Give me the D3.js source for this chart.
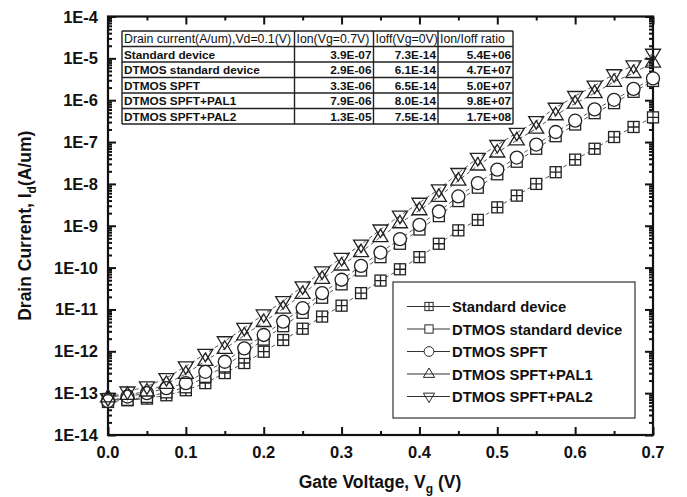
<!DOCTYPE html>
<html>
<head>
<meta charset="utf-8">
<script src="https://d3js.org/d3.v7.min.js"></script>
<style>
  body { margin: 0; background: #fff; }
  text { font-family: "Liberation Sans", Arial, sans-serif; fill: #111; }
</style>
</head>
<body>
<svg id="svg" width="687" height="497"></svg>
<script>
// gate voltage (V)
var vg = [0, 0.025, 0.05, 0.075, 0.1, 0.125, 0.15, 0.175, 0.2, 0.225, 0.25, 0.275, 0.3, 0.325, 0.35,
          0.375, 0.4, 0.425, 0.45, 0.475, 0.5, 0.525, 0.55, 0.575, 0.6, 0.625, 0.65, 0.675, 0.7];

// drain current, log10(A/um)
var logStd   = [-13.14, -13.17, -13.13, -13.05, -12.93, -12.76, -12.52, -12.28, -12.01, -11.73, -11.46, -11.17, -10.91, -10.61, -10.31,
                -10.04, -9.75, -9.43, -9.11, -8.86, -8.56, -8.28, -8.00, -7.72, -7.42, -7.16, -6.88, -6.64, -6.41];
var logDtStd = [-13.21, -13.16, -13.09, -12.98, -12.86, -12.61, -12.36, -12.04, -11.72, -11.40, -11.08, -10.72, -10.40, -10.07, -9.75,
                -9.43, -9.09, -8.77, -8.41, -8.09, -7.77, -7.47, -7.16, -6.86, -6.58, -6.31, -6.07, -5.80, -5.54];
var logSpft  = [-13.19, -13.08, -13.00, -12.88, -12.76, -12.49, -12.25, -11.93, -11.61, -11.29, -10.97, -10.61, -10.29, -9.96, -9.64,
                -9.32, -8.98, -8.66, -8.30, -7.98, -7.66, -7.37, -7.06, -6.76, -6.49, -6.22, -5.99, -5.73, -5.48];
var logPal1  = [-13.10, -13.04, -12.96, -12.78, -12.54, -12.23, -11.94, -11.62, -11.30, -10.98, -10.63, -10.27, -9.95, -9.63, -9.27,
                -8.94, -8.63, -8.31, -7.92, -7.56, -7.25, -6.96, -6.68, -6.36, -6.08, -5.83, -5.56, -5.35, -5.10];
var logPal2  = [-13.12, -12.96, -12.84, -12.64, -12.36, -12.06, -11.76, -11.44, -11.12, -10.80, -10.45, -10.09, -9.77, -9.45, -9.09,
                -8.76, -8.45, -8.13, -7.74, -7.38, -7.07, -6.78, -6.50, -6.18, -5.90, -5.65, -5.38, -5.17, -4.89];

var seriesNames = ["Standard device", "DTMOS standard device", "DTMOS SPFT", "DTMOS SPFT+PAL1", "DTMOS SPFT+PAL2"];
var seriesMarks = ["boxplus", "square", "circle", "up", "down"];

var xTicks = [0, 0.1, 0.2, 0.3, 0.4, 0.5, 0.6, 0.7];
var xTickLabels = ["0.0", "0.1", "0.2", "0.3", "0.4", "0.5", "0.6", "0.7"];
var yTicks = [1e-14, 1e-13, 1e-12, 1e-11, 1e-10, 1e-9, 1e-8, 1e-7, 1e-6, 1e-5, 1e-4];
var yTickLabels = ["1E-14", "1E-13", "1E-12", "1E-11", "1E-10", "1E-9", "1E-8", "1E-7", "1E-6", "1E-5", "1E-4"];

// inset table
var tableHeader = ["Drain current(A/um),Vd=0.1(V)", "Ion(Vg=0.7V)", "Ioff(Vg=0V)", "Ion/Ioff ratio"];
var tableIon   = ["3.9E-07", "2.9E-06", "3.3E-06", "7.9E-06", "1.3E-05"];
var tableIoff  = ["7.3E-14", "6.1E-14", "6.5E-14", "8.0E-14", "7.5E-14"];
var tableRatio = ["5.4E+06", "4.7E+07", "5.0E+07", "9.8E+07", "1.7E+08"];

var svg = d3.select("svg");
var pL = 108, pR = 653, pT = 16.5, pB = 435;

var x = d3.scaleLinear().domain([0, 0.7]).range([pL, pR]);
var y = d3.scaleLog().domain([1e-14, 1e-4]).range([pB, pT]);

var allLogs = [logStd, logDtStd, logSpft, logPal1, logPal2];
var series = seriesNames.map(function(n, i) {
    return { name: n, mark: seriesMarks[i],
             pts: vg.map(function(v, j) { return { v: v, i: Math.pow(10, allLogs[i][j]) }; }) };
});

// minor log ticks
var minorY = [];
for (var e = -14; e < -4; e++) {
    for (var k = 2; k <= 9; k++) minorY.push(k * Math.pow(10, e));
}
var minorX = [0.05, 0.15, 0.25, 0.35, 0.45, 0.55, 0.65];

var ax = svg.append("g");
// left / right ticks
ax.append("g").attr("transform", "translate(" + pL + ",0)")
  .call(d3.axisRight(y).tickValues(yTicks).tickSize(8).tickFormat(""));
ax.append("g").attr("transform", "translate(" + pL + ",0)")
  .call(d3.axisRight(y).tickValues(minorY).tickSize(4).tickFormat(""));
ax.append("g").attr("transform", "translate(" + pR + ",0)")
  .call(d3.axisLeft(y).tickValues(yTicks).tickSize(8).tickFormat(""));
ax.append("g").attr("transform", "translate(" + pR + ",0)")
  .call(d3.axisLeft(y).tickValues(minorY).tickSize(4).tickFormat(""));
// bottom / top ticks
ax.append("g").attr("transform", "translate(0," + pB + ")")
  .call(d3.axisTop(x).tickValues(xTicks).tickSize(8).tickFormat(""));
ax.append("g").attr("transform", "translate(0," + pB + ")")
  .call(d3.axisTop(x).tickValues(minorX).tickSize(4).tickFormat(""));
ax.append("g").attr("transform", "translate(0," + pT + ")")
  .call(d3.axisBottom(x).tickValues(xTicks).tickSize(8).tickFormat(""));
ax.append("g").attr("transform", "translate(0," + pT + ")")
  .call(d3.axisBottom(x).tickValues(minorX).tickSize(4).tickFormat(""));
ax.selectAll(".domain").remove();
ax.selectAll("line").attr("stroke", "#111").attr("stroke-width", 2);

svg.append("rect").attr("x", pL).attr("y", pT)
   .attr("width", pR - pL).attr("height", pB - pT)
   .attr("fill", "none").attr("stroke", "#111").attr("stroke-width", 2.2);

// tick labels
svg.append("g").selectAll("text").data(yTicks).join("text")
   .attr("x", 98).attr("y", function(d) { return y(d) + 6; })
   .attr("text-anchor", "end").attr("font-size", 16.5).attr("font-weight", "bold")
   .text(function(d, i) { return yTickLabels[i]; });
svg.append("g").selectAll("text").data(xTicks).join("text")
   .attr("x", function(d) { return x(d); }).attr("y", 458)
   .attr("text-anchor", "middle").attr("font-size", 16.5).attr("font-weight", "bold")
   .text(function(d, i) { return xTickLabels[i]; });

// axis titles
var xt = svg.append("text").attr("x", 380).attr("y", 488).attr("text-anchor", "middle")
   .attr("font-size", 17.5).attr("font-weight", "bold");
xt.append("tspan").text("Gate Voltage, V");
xt.append("tspan").attr("font-size", 12).attr("dy", 5).text("g");
xt.append("tspan").attr("dy", -5).text(" (V)");

var yt = svg.append("text").attr("transform", "translate(31," + ((pT + pB) / 2) + ") rotate(-90)")
   .attr("text-anchor", "middle").attr("font-size", 17.5).attr("font-weight", "bold");
yt.append("tspan").text("Drain Current, I");
yt.append("tspan").attr("font-size", 12).attr("dy", 5).text("d");
yt.append("tspan").attr("dy", -5).text("(A/um)");

// markers
function drawMark(g, kind) {
    var st = "#222", sw = 1.3;
    if (kind == "boxplus") {
        g.append("rect").attr("x", -5.5).attr("y", -5.5).attr("width", 11).attr("height", 11)
         .attr("fill", "#fff").attr("stroke", st).attr("stroke-width", sw);
        g.append("path").attr("d", "M-5.5,0H5.5M0,-5.5V5.5").attr("stroke", st).attr("stroke-width", sw);
    } else if (kind == "square") {
        g.append("rect").attr("x", -5.5).attr("y", -5.5).attr("width", 11).attr("height", 11)
         .attr("fill", "#fff").attr("stroke", st).attr("stroke-width", sw);
    } else if (kind == "circle") {
        g.append("circle").attr("r", 6.5).attr("fill", "#fff").attr("stroke", st).attr("stroke-width", sw);
    } else if (kind == "up") {
        g.append("path").attr("d", "M0,-8L7.5,4.5L-7.5,4.5Z").attr("fill", "none").attr("stroke", st).attr("stroke-width", sw);
    } else {
        g.append("path").attr("d", "M0,8L7.5,-4.5L-7.5,-4.5Z").attr("fill", "none").attr("stroke", st).attr("stroke-width", sw);
    }
}

var line = d3.line().x(function(d) { return x(d.v); }).y(function(d) { return y(d.i); });
var plot = svg.append("g");
series.forEach(function(s) {
    plot.append("path").datum(s.pts).attr("d", line).attr("fill", "none")
        .attr("stroke", "#555").attr("stroke-width", 1).attr("stroke-dasharray", "4,3");
});
series.forEach(function(s) {
    s.pts.forEach(function(p) {
        var g = plot.append("g").attr("transform", "translate(" + x(p.v) + "," + y(p.i) + ")");
        drawMark(g, s.mark);
    });
});

// inset table
var colX = [122, 294.5, 373.5, 438, 513];
var rowY = [31, 46.5, 62, 77.5, 93, 108.5, 124];
var tb = svg.append("g");
tb.append("rect").attr("x", colX[0]).attr("y", rowY[0])
  .attr("width", colX[4] - colX[0]).attr("height", rowY[6] - rowY[0]).attr("fill", "#fff");
tb.selectAll("line.h").data(rowY).join("line")
  .attr("x1", colX[0]).attr("x2", colX[4]).attr("y1", function(d) { return d; }).attr("y2", function(d) { return d; })
  .attr("stroke", "#222").attr("stroke-width", 1.4);
tb.selectAll("line.v").data(colX).join("line")
  .attr("x1", function(d) { return d; }).attr("x2", function(d) { return d; }).attr("y1", rowY[0]).attr("y2", rowY[6])
  .attr("stroke", "#222").attr("stroke-width", 1.4);
tb.selectAll("text.hd").data(tableHeader).join("text")
  .attr("x", function(d, i) { return colX[i] + 2; }).attr("y", rowY[0] + 12)
  .attr("font-size", 12.3).text(function(d) { return d; });
var rows = seriesNames.map(function(n, i) { return [n, tableIon[i], tableIoff[i], tableRatio[i]]; });
rows.forEach(function(r, ri) {
    r.forEach(function(c, ci) {
        tb.append("text")
          .attr("x", ci == 0 ? colX[0] + 2 : colX[ci + 1] - 2)
          .attr("y", rowY[ri + 1] + 12)
          .attr("text-anchor", ci == 0 ? "start" : "end")
          .attr("font-size", 11.8).attr("font-weight", "bold").text(c);
    });
});

// legend
var lg = svg.append("g");
lg.append("rect").attr("x", 393).attr("y", 282).attr("width", 242).attr("height", 136)
  .attr("fill", "#fff").attr("stroke", "#333").attr("stroke-width", 1.2);
series.forEach(function(s, i) {
    var ly = 306.5 + i * 22.5;
    lg.append("line").attr("x1", 407).attr("x2", 450).attr("y1", ly).attr("y2", ly)
      .attr("stroke", "#333").attr("stroke-width", 1.2);
    var g = lg.append("g").attr("transform", "translate(429," + ly + ") scale(0.75)");
    drawMark(g, s.mark);
    lg.append("text").attr("x", 452).attr("y", ly + 5.5).attr("font-size", 14.8).attr("font-weight", "bold")
      .text(s.name);
});
</script>
</body>
</html>
